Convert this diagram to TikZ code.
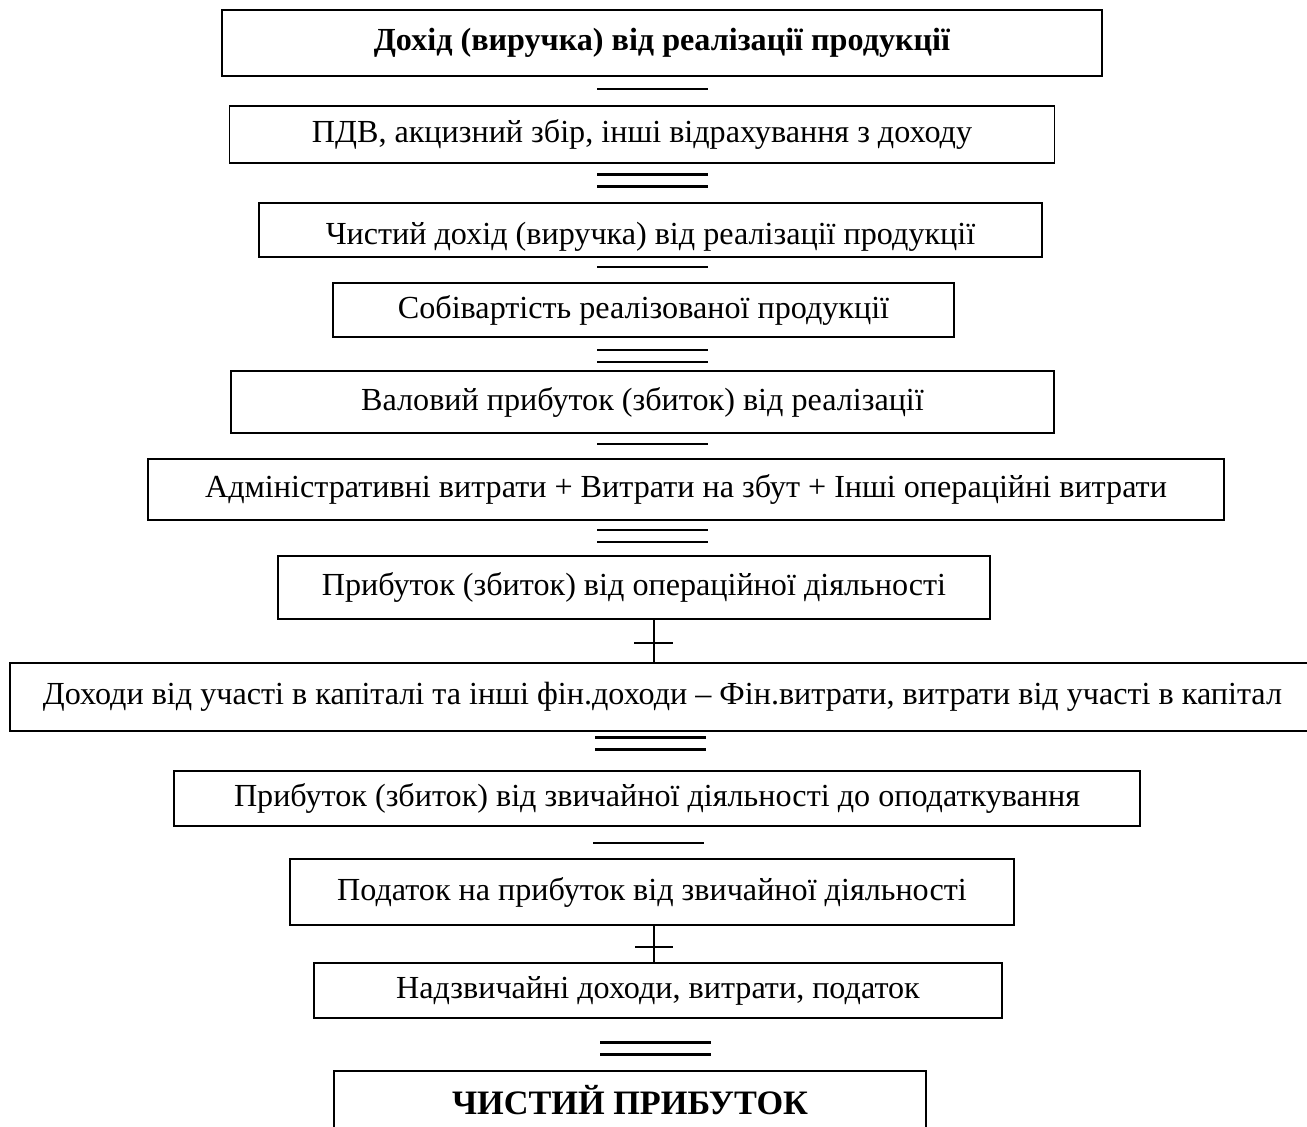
\documentclass[tikz,border=0pt]{standalone}
\usepackage{fontspec}
\setmainfont{Liberation Serif}

% minus and equals signs between the boxes
\newcommand{\minussign}[1]{\draw[sign] (#1) ++(-55,0) -- ++(111,0);}
\newcommand{\equalsign}[1]{%
  \draw[sign] (#1) ++(-55,-6) -- ++(111,0);
  \draw[sign] (#1) ++(-55,6) -- ++(111,0);}

\begin{document}
\begin{tikzpicture}[x=0.02cm, y=-0.02cm,
    box/.style={draw, line width=0.85pt, inner sep=0pt,
                font=\fontsize{18.3}{21}\selectfont},
    sign/.style={line width=1.3pt},
    tick/.style={line width=0.8pt}]
    \useasboundingbox (0,0) rectangle (1307,1126);

    % Revenue
    \node[box, minimum width=17.6cm, minimum height=1.32cm] (rev) at (662,43)
        {\textbf{Дохід (виручка) від реалізації продукції}};
    \coordinate (m1) at (652,89);
    \minussign{m1}

    % VAT and excise
    \node[box, minimum width=16.5cm, minimum height=1.14cm] (vat) at (642,134.5)
        {ПДВ, акцизний збір, інші відрахування з доходу};
    \coordinate (e1) at (652,180.5);
    \equalsign{e1}

    % Net revenue - text sits low in the box
    \node[box, minimum width=15.66cm, minimum height=1.08cm] (net) at (650.5,230)
        {\raisebox{-4pt}[\height][\depth]{Чистий дохід (виручка) від реалізації продукції}};
    \coordinate (m2) at (652,267);
    \minussign{m2}

    % Cost of sales
    \node[box, minimum width=12.42cm, minimum height=1.08cm] (cost) at (643.5,310)
        {Собівартість реалізованої продукції};
    \coordinate (e2) at (652,356);
    \equalsign{e2}

    % Gross profit
    \node[box, minimum width=16.46cm, minimum height=1.24cm] (gross) at (642.5,402)
        {Валовий прибуток (збиток) від реалізації};
    \coordinate (m3) at (652,444);
    \minussign{m3}

    % Operating expenses
    \node[box, minimum width=21.52cm, minimum height=1.22cm] (opex) at (686,489.5)
        {Адміністративні витрати + Витрати на збут + Інші операційні витрати};
    \coordinate (e3) at (652,536);
    \equalsign{e3}

    % Operating profit
    \node[box, minimum width=14.24cm, minimum height=1.26cm] (op) at (634,587.5)
        {Прибуток (збиток) від операційної діяльності};

    % Financial results - runs past the right edge
    \node[box, minimum width=26.1cm, minimum height=1.36cm] (fin) at (662.5,697)
        {Доходи від участі в капіталі та інші фін.доходи -- Фін.витрати, витрати від участі в капітал};
    \coordinate (p1) at (654,643);
    \draw[tick] (op.south -| p1) -- (fin.north -| p1);
    \draw[tick] (p1) ++(-20,0) -- ++(39,0);
    \coordinate (e4) at (650,743.5);
    \equalsign{e4}

    % Profit before tax
    \node[box, minimum width=19.32cm, minimum height=1.1cm] (pbt) at (657,798.5)
        {Прибуток (збиток) від звичайної діяльності до оподаткування};
    \coordinate (m4) at (648,843);
    \minussign{m4}

    % Income tax
    \node[box, minimum width=14.48cm, minimum height=1.32cm] (tax) at (652,892)
        {Податок на прибуток від звичайної діяльності};

    % Extraordinary items
    \node[box, minimum width=13.76cm, minimum height=1.1cm] (extra) at (658,990.5)
        {Надзвичайні доходи, витрати, податок};
    \coordinate (p2) at (654,947);
    \draw[tick] (tax.south -| p2) -- (extra.north -| p2);
    \draw[tick] (p2) ++(-19,0) -- ++(38,0);
    \coordinate (e5) at (655,1048.5);
    \equalsign{e5}

    % Net profit
    \node[box, minimum width=11.84cm, minimum height=1.16cm,
          font=\fontsize{19.5}{22}\selectfont] (profit) at (630,1100)
        {\textbf{ЧИСТИЙ ПРИБУТОК}};
\end{tikzpicture}
\end{document}
